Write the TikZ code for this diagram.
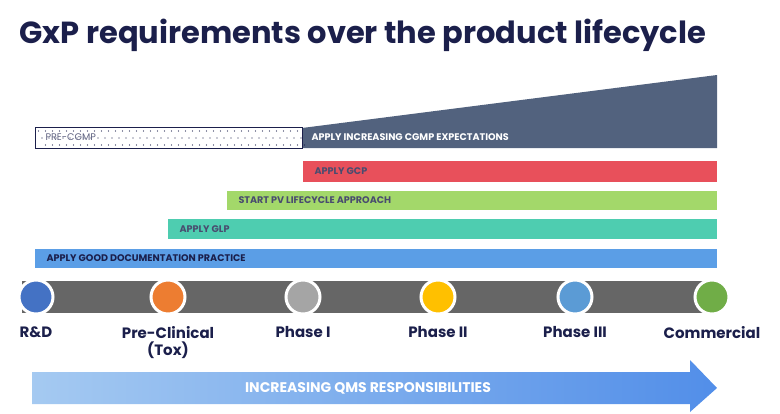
\documentclass[tikz,border=0pt]{standalone}
\usepackage{fontspec}
\setmainfont{Poppins}
\definecolor{navy}{HTML}{1B1F4B}
\definecolor{slate}{HTML}{52627E}
\definecolor{gcpred}{HTML}{E8505B}
\definecolor{pvgreen}{HTML}{A3D86A}
\definecolor{glpteal}{HTML}{4ECDB0}
\definecolor{gdpblue}{HTML}{5B9EE6}
\definecolor{barstrip}{HTML}{666666}
\tikzset{
  bartext/.style={anchor=west, font=\fontsize{9.6}{10}\selectfont\bfseries, text=#1},
  stage/.style={circle, draw=white, line width=3pt, minimum size=34pt, inner sep=0pt},
  stagelabel/.style={anchor=north, align=center, text=navy, font=\fontsize{15}{17}\selectfont\bfseries}
}
\begin{document}
\begin{tikzpicture}[x=1pt,y=-1pt]
\useasboundingbox (0,0) rectangle (780,413);
% Title
\node[anchor=west, text=navy, font=\fontsize{30.5}{32}\selectfont\bfseries] (title) at (16,35) {GxP requirements over the product lifecycle};
% cGMP wedge and pre-cGMP box
\fill[slate] (302,128) -- (717,75) -- (717,148) -- (302,148) -- cycle;
\node[bartext=white] (cgmp) at (308,137) {APPLY INCREASING CGMP EXPECTATIONS};
\foreach \x in {38,45,...,298}
  \foreach \y in {131,138,145}
    \fill[navy] (\x+\y/2-65,\y) circle (0.6pt);
\draw[navy, thick] (35,127) rectangle (302,148);
\node[bartext=navy!70, font=\fontsize{9.6}{10}\selectfont] (precgmp) at (42,137) {PRE-CGMP};
% Requirement bars
\fill[gcpred] (303,161) rectangle (717,182);
\node[bartext=navy!80] (gcp) at (311,171.5) {APPLY GCP};
\fill[pvgreen] (227,191) rectangle (717,210);
\node[bartext=navy!80] (pv) at (235,200.5) {START PV LIFECYCLE APPROACH};
\fill[glpteal] (168,219) rectangle (717,239);
\node[bartext=navy!80] (glp) at (176,229) {APPLY GLP};
\fill[gdpblue] (35,249) rectangle (717,268);
\node[bartext=navy] (gdp) at (43,258.5) {APPLY GOOD DOCUMENTATION PRACTICE};
% Timeline
\fill[barstrip] (22,281) rectangle (714,313);
\foreach \x/\c/\n/\t in {36/4472C4/rd/R\&D, 168/ED7D31/pc/{Pre-Clinical\\(Tox)}, 303/A5A5A5/p1/Phase I,
                       438/FFC000/p2/Phase II, 575/5B9BD5/p3/Phase III, 712/70AD47/com/Commercial}{
  \definecolor{stagecol}{HTML}{\c}
  \node[stage, fill=stagecol] (\n) at (\x,297) {};
  \node[stagelabel] (\n-label) at (\x,323) {\t};
}
% QMS arrow
\shade[left color=gdpblue!55, right color=gdpblue!90!blue]
  (32,372) -- (690,372) -- (690,360) -- (717,388) -- (690,412) -- (690,404) -- (32,404) -- cycle;
\node[text=white, font=\fontsize{14}{15}\selectfont\bfseries] (qms) at (368,388) {INCREASING QMS RESPONSIBILITIES};
\end{tikzpicture}
\end{document}
